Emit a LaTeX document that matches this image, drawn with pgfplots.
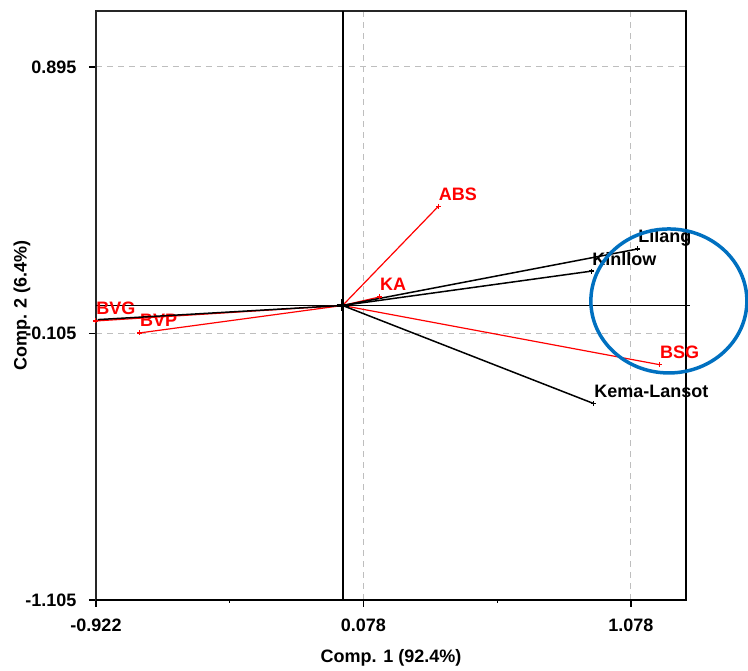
\documentclass[border=0pt]{standalone}
\usepackage{pgfplots}
\pgfplotsset{compat=1.18}
\usepackage{fontspec}
\setmainfont{Liberation Sans}
\definecolor{ringblue}{RGB}{0,112,192}
\definecolor{gridgray}{RGB}{190,190,190}
\begin{document}
\begin{tikzpicture}[font=\fontsize{18}{21}\selectfont\bfseries]
\begin{axis}[
  scale only axis, width=590pt, height=589pt,
  xmin=-0.922, xmax=1.284, ymin=-1.105, ymax=1.105,
  xtick={-0.922,0.078,1.078}, xticklabels={-0.922,0.078,1.078},
  ytick={-1.105,-0.105,0.895}, yticklabels={-1.105,-0.105,0.895},
  minor xtick={-0.422,0.578},
  xtick pos=left, ytick pos=left,
  tick align=outside, major tick length=7pt, minor tick length=3pt,
  tick style={black, line width=1.2pt},
  xmajorgrids, ymajorgrids,
  major grid style={gridgray, dash pattern=on 6pt off 5pt, line width=1pt},
  axis line style={line width=1.5pt, black!85},
  xticklabel style={yshift=-8pt},
  yticklabel style={xshift=-9pt},
  xlabel={Comp. 1 (92.4\%)}, ylabel={Comp. 2 (6.4\%)},
  xlabel style={at={(axis description cs:0.5,-0.0985)}, anchor=center},
  ylabel style={at={(axis description cs:-0.1254,0.5)}, anchor=center},
  clip=false,
]
\coordinate (sw) at (rel axis cs:0,0);
% origin reference lines
\draw[black, line width=2pt] (axis cs:0,-1.105) -- (axis cs:0,1.105);
\draw[black, line width=1.5pt] (axis cs:-0.922,0) -- (axis cs:1.299,0);
% thick right and bottom frame
\draw[black, line width=2.8pt] (rel axis cs:0,0) -- (rel axis cs:1,0) -- (rel axis cs:1,1);

% red vectors (variables)
\addplot[red, line width=1.2pt, mark=+, mark size=2.5pt, mark indices={2}]
  coordinates {(0,0) (0.358,0.372)} node[pos=1, anchor=base west, inner sep=0pt, yshift=6pt, text=red] {ABS};
\addplot[red, line width=1.2pt, mark=+, mark size=2.5pt, mark indices={2}]
  coordinates {(0,0) (0.138,0.032)} node[pos=1, anchor=base west, inner sep=0pt, yshift=6pt, text=red] {KA};
\addplot[red, line width=1.2pt, mark=+, mark size=2.5pt, mark indices={2}]
  coordinates {(0,0) (1.185,-0.222)} node[pos=1, anchor=base west, inner sep=0pt, yshift=6pt, text=red] {BSG};
\addplot[red, line width=1.2pt, mark=+, mark size=2.5pt, mark indices={2}]
  coordinates {(0,0) (-0.923,-0.058)} node[pos=1, anchor=base west, inner sep=0pt, yshift=6pt, text=red] {BVG};
\addplot[red, line width=1.2pt, mark=+, mark size=2.5pt, mark indices={2}]
  coordinates {(0,0) (-0.759,-0.103)} node[pos=1, anchor=base west, inner sep=0pt, yshift=6pt, text=red] {BVP};

% black vectors (genotypes)
\addplot[black, line width=1.5pt, mark=+, mark size=2.5pt, mark indices={2}]
  coordinates {(0,0) (1.103,0.212)} node[pos=1, anchor=base west, inner sep=0pt, yshift=6pt] {Lilang};
\addplot[black, line width=1.5pt, mark=+, mark size=2.5pt, mark indices={2}]
  coordinates {(0,0) (0.931,0.129)} node[pos=1, anchor=base west, inner sep=0pt, yshift=6pt] {Kinllow};
\addplot[black, line width=1.5pt, mark=+, mark size=2.5pt, mark indices={2}]
  coordinates {(0,0) (0.939,-0.368)} node[pos=1, anchor=base west, inner sep=0pt, yshift=6pt] {Kema-Lansot};
\addplot[black, line width=1.5pt]
  coordinates {(0,0) (-0.916,-0.053)};

% origin marker
\addplot[black, mark=+, mark size=6pt, line width=3pt, only marks] coordinates {(0,0)};

% highlight ellipse
\draw[ringblue, line width=3.5pt] (axis cs:1.220,0.017) ellipse [x radius=78pt, y radius=72pt];
\end{axis}
\pgfresetboundingbox
\useasboundingbox (sw) ++(-96pt,-71pt) rectangle ++(748pt,671pt);
\end{tikzpicture}
\end{document}
